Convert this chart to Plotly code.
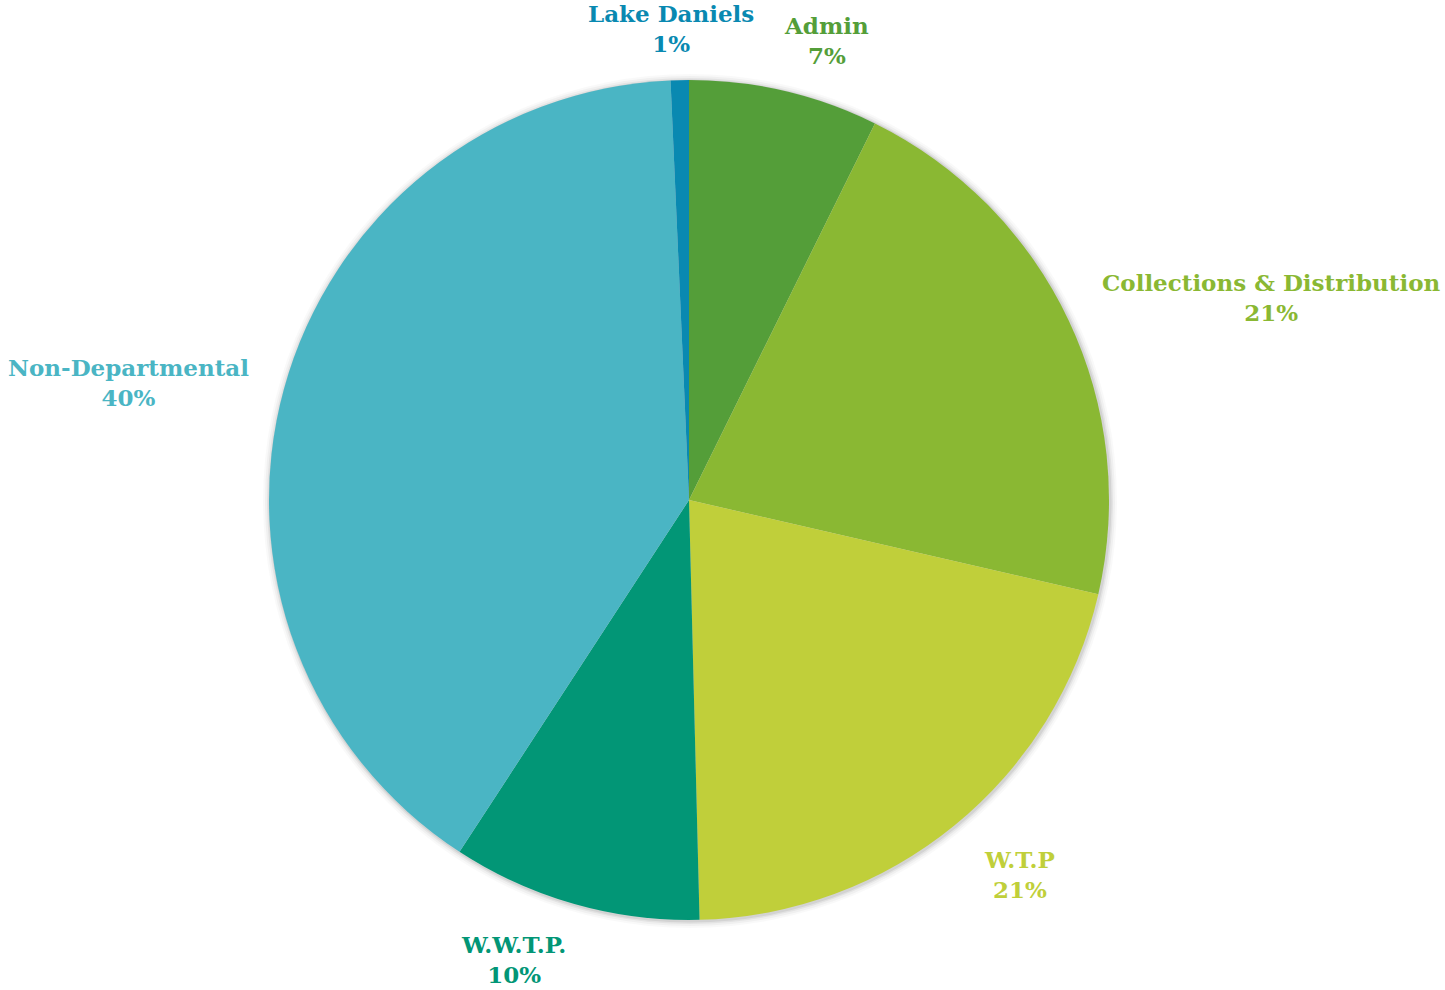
import plotly.graph_objects as go

# Budget share by department
departments = ["Admin", "Collections & Distribution", "W.T.P", "W.W.T.P.",
               "Non-Departmental", "Lake Daniels"]
shares = [7.3, 21.3, 21.0, 9.6, 40.1, 0.7]
colors = ["#549E39", "#8AB833", "#C0CF3A", "#029676", "#4AB5C4", "#0989B1"]

W, H = 1445, 990
CX, CY, R = 689, 500, 420  # pie centre and radius in pixels

# label block centres (pixels) for each department
label_xy = [(826, 40), (1271, 297), (1019, 874), (513, 959), (128, 382), (671, 29)]

fig = go.Figure()
fig.add_trace(go.Pie(
    labels=departments,
    values=shares,
    sort=False,
    direction="clockwise",
    rotation=0,
    marker=dict(colors=colors, line=dict(width=0)),
    textinfo="none",
    hoverinfo="label+percent",
    showlegend=False,
    domain=dict(x=[(CX - R) / W, (CX + R) / W],
                y=[(H - CY - R) / H, (H - CY + R) / H]),
))

# soft shadow around the pie
shapes = []
for k, op in [(7, 0.025), (5, 0.035), (3, 0.05), (1.5, 0.07)]:
    shapes.append(dict(
        type="circle", xref="paper", yref="paper", layer="below",
        x0=(CX - R - k + 1) / W, x1=(CX + R + k + 1) / W,
        y0=(H - CY - R - k - 1) / H, y1=(H - CY + R + k - 1) / H,
        fillcolor="#000000", opacity=op, line=dict(width=0),
    ))

total = sum(shares)
annotations = []
for name, val, col, (lx, ly) in zip(departments, shares, colors, label_xy):
    annotations.append(dict(
        text=f"{name}<br>{round(val / total * 100)}%",
        x=lx / W, y=1 - ly / H, xref="paper", yref="paper",
        xanchor="center", yanchor="middle", showarrow=False, align="center",
        font=dict(family="DejaVu Serif", size=23, color=col, weight="bold"),
    ))

fig.update_layout(
    width=W, height=H,
    margin=dict(l=0, r=0, t=0, b=0),
    paper_bgcolor="white", plot_bgcolor="white",
    shapes=shapes, annotations=annotations,
)

fig.write_html("out.html")
